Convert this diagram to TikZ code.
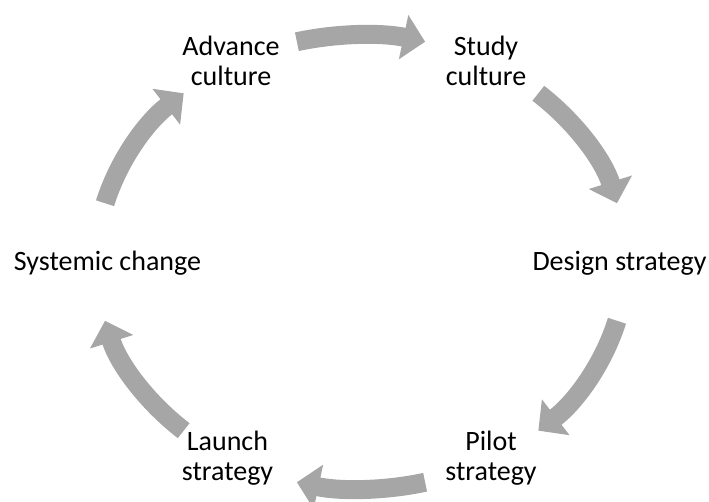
\documentclass[tikz,border=0pt]{standalone}
\usepackage{fontspec}
\setmainfont{Carlito}
\usetikzlibrary{arrows.meta,calc}
\definecolor{cyclegray}{HTML}{A6A6A6}
\tikzset{
  x=1pt, y=1pt,
  label/.style={align=center, font=\fontsize{28}{30}\selectfont, inner sep=0pt},
  cyc/.style={draw=cyclegray, line width=19pt,
    -{Triangle[width=44pt, length=22pt, fill=cyclegray, color=cyclegray]}},
}
\newcommand{\rx}{265}
\newcommand{\ry}{227}
\begin{document}
\begin{tikzpicture}
  \useasboundingbox (0,0) rectangle (709,502);
  \coordinate (c) at (361,240);

  % stage labels
  \node[label] (advance) at (231,441) {Advance\\culture};
  \node[label] (study)   at (486,441) {Study\\culture};
  \node[label] (design)  at (619.5,239) {Design strategy};
  \node[label] (pilot)   at (491,44) {Pilot\\strategy};
  \node[label] (launch)  at (227.5,44) {Launch\\strategy};
  \node[label] (systemic) at (107.5,239) {Systemic change};

  % start points of the arrows on the elliptical track
  \foreach \n/\a in {a1/104, a2/48, a3/-15, a4/-76, a5/-132, a6/165}
    \coordinate (\n) at ($(c)+(\a:\rx pt and \ry pt)$);

  % curved block arrows, clockwise
  \draw[cyc] (a1) arc[start angle=104, end angle=76, x radius=\rx, y radius=\ry];
  \draw[cyc] (a2) arc[start angle=48, end angle=15, x radius=\rx, y radius=\ry];
  \draw[cyc] (a3) arc[start angle=-15, end angle=-48, x radius=\rx, y radius=\ry];
  \draw[cyc] (a4) arc[start angle=-76, end angle=-104, x radius=\rx, y radius=\ry];
  \draw[cyc] (a5) arc[start angle=-132, end angle=-165, x radius=\rx, y radius=\ry];
  \draw[cyc] (a6) arc[start angle=165, end angle=132, x radius=\rx, y radius=\ry];
\end{tikzpicture}
\end{document}
